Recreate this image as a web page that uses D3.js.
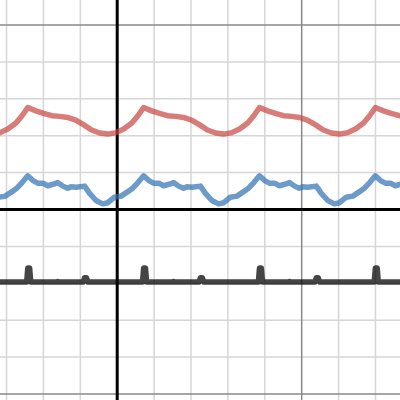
<!DOCTYPE html>
<html><head><meta charset="utf-8">
<script src="https://cdn.jsdelivr.net/npm/d3@7"></script>
<style>html,body{margin:0;padding:0;background:#fff;overflow:hidden}</style>
</head><body>
<svg id="c" width="400" height="400"></svg>
<script>
// grid ticks
const minorX = [-3,-2,-1,1,2,3,4,6,7];
const majorX = [5];
const minorY = [-4,-3,-2,-1,1,2,3,4];
const majorY = [-5,5];

// red series [x, y]
const redX = [-3.38,-3.16,-2.95,-2.73,-2.57,
 -2.41,-2.19,-1.98,-1.76,-1.54,-1.33,-1.11,-0.89,-0.68,-0.46,-0.24,-0.02,0.19,0.41,0.57,
 0.73,0.95,1.16,1.38,1.60,1.81,2.03,2.25,2.46,2.68,2.90,3.12,3.33,3.55,3.71,
 3.87,4.09,4.30,4.52,4.74,4.95,5.17,5.39,5.60,5.82,6.04,6.26,6.47,6.69,6.85,
 7.01,7.23,7.44,7.66,7.88];
const redY = [2.03,2.07,2.17,2.33,2.52,
 2.75,2.66,2.59,2.53,2.51,2.48,2.41,2.28,2.14,2.06,2.03,2.07,2.17,2.33,2.52,
 2.75,2.66,2.59,2.53,2.51,2.48,2.41,2.28,2.14,2.06,2.03,2.07,2.17,2.33,2.52,
 2.75,2.66,2.59,2.53,2.51,2.48,2.41,2.28,2.14,2.06,2.03,2.07,2.17,2.33,2.52,
 2.75,2.66,2.59,2.53,2.51];

// blue series
const blueX = [-3.38,-3.20,-3.02,-2.84,-2.70,-2.57,
 -2.41,-2.27,-2.14,-2.00,-1.87,-1.69,-1.60,-1.46,-1.33,-1.24,-1.10,-0.87,-0.74,-0.56,-0.38,-0.24,-0.06,0.12,0.30,0.44,0.57,
 0.73,0.87,1.00,1.14,1.27,1.45,1.54,1.68,1.81,1.90,2.04,2.27,2.40,2.58,2.76,2.90,3.08,3.26,3.44,3.58,3.71,
 3.87,4.01,4.14,4.28,4.41,4.59,4.68,4.82,4.95,5.04,5.18,5.41,5.54,5.72,5.90,6.04,6.22,6.40,6.58,6.72,6.85,
 7.01,7.15,7.28,7.42,7.55,7.73];
const blueY = [0.17,0.32,0.35,0.47,0.57,0.71,
 0.90,0.77,0.70,0.70,0.63,0.68,0.72,0.62,0.56,0.60,0.59,0.62,0.43,0.23,0.14,0.17,0.32,0.35,0.47,0.57,0.71,
 0.90,0.77,0.70,0.70,0.63,0.68,0.72,0.62,0.56,0.60,0.59,0.62,0.43,0.23,0.14,0.17,0.32,0.35,0.47,0.57,0.71,
 0.90,0.77,0.70,0.70,0.63,0.68,0.72,0.62,0.56,0.60,0.59,0.62,0.43,0.23,0.14,0.17,0.32,0.35,0.47,0.57,0.71,
 0.90,0.77,0.70,0.70,0.63,0.68];

// dark series (baseline with spikes)
const darkX = [-3.3,
 -2.44,-2.41,-2.36,-2.33, -1.63,-1.60,-1.57, -0.91,-0.87,-0.82,-0.78,
 0.70,0.73,0.78,0.81, 1.51,1.54,1.57, 2.23,2.27,2.32,2.36,
 3.84,3.87,3.92,3.95, 4.65,4.68,4.71, 5.37,5.41,5.46,5.50,
 6.98,7.01,7.06,7.09, 7.8];
const darkY = [-1.98,
 -1.98,-1.60,-1.60,-1.98, -1.98,-1.965,-1.98, -1.98,-1.86,-1.86,-1.98,
 -1.98,-1.60,-1.60,-1.98, -1.98,-1.965,-1.98, -1.98,-1.86,-1.86,-1.98,
 -1.98,-1.60,-1.60,-1.98, -1.98,-1.965,-1.98, -1.98,-1.86,-1.86,-1.98,
 -1.98,-1.60,-1.60,-1.98, -1.98];

const W = 400, H = 400;
const x = d3.scaleLinear().domain([-3.163, 7.678]).range([0, W]);
const y = d3.scaleLinear().domain([-5.176, 5.664]).range([H, 0]);
const svg = d3.select("#c");

function vgrid(vals, color, w) {
  const g = svg.append("g").attr("transform", `translate(0,${H})`)
    .call(d3.axisBottom(x).tickValues(vals).tickSize(-H).tickFormat(""));
  g.select(".domain").remove();
  g.selectAll("line").attr("stroke", color).attr("stroke-width", w);
}
function hgrid(vals, color, w) {
  const g = svg.append("g")
    .call(d3.axisLeft(y).tickValues(vals).tickSize(-W).tickFormat(""));
  g.select(".domain").remove();
  g.selectAll("line").attr("stroke", color).attr("stroke-width", w);
}
vgrid(minorX, "#d6d6d6", 1.5);
hgrid(minorY, "#d6d6d6", 1.5);
vgrid(majorX, "#888", 1.5);
hgrid(majorY, "#888", 1.5);
// axes
vgrid([0], "#000", 3);
hgrid([0], "#000", 3);

const line = d3.line().x(d => x(d[0])).y(d => y(d[1])).curve(d3.curveLinear);
function series(xs, ys, color, op) {
  svg.append("path").datum(xs.map((v, i) => [v, ys[i]]))
    .attr("d", line).attr("fill", "none").attr("stroke", color)
    .attr("stroke-width", 5.5).attr("stroke-linejoin", "round").attr("stroke-linecap", "round")
    .attr("stroke-opacity", op);
}
series(redX, redY, "#c74440", 0.7);
series(blueX, blueY, "#2d70b3", 0.7);
series(darkX, darkY, "#000000", 0.73);
</script>
</body></html>
